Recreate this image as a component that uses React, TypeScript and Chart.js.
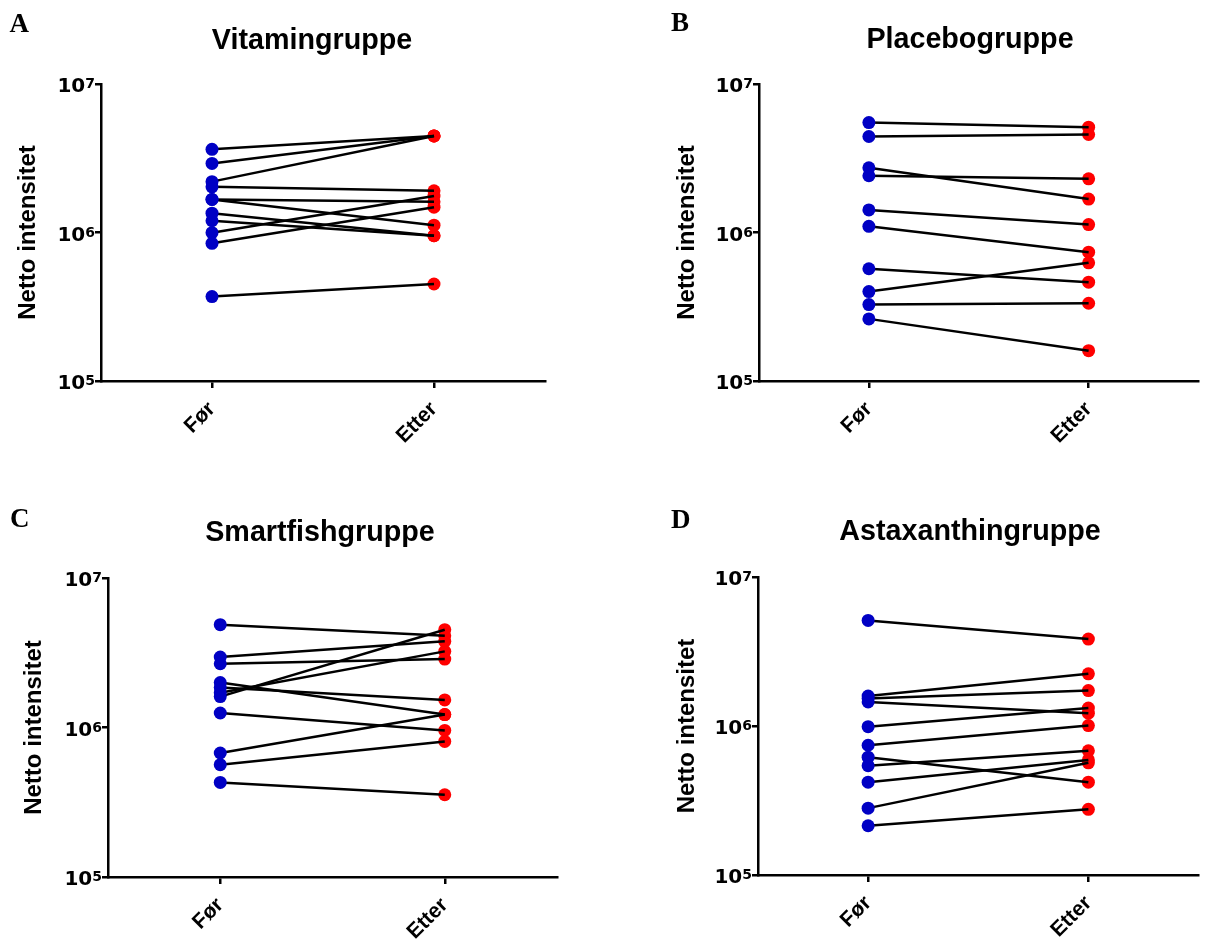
import React, { useEffect, useRef } from 'react';
import { Chart, registerables } from 'chart.js';

Chart.register(...registerables);

// ---------------- data ----------------
const categories = ['Før', 'Etter'];
const yTickValues = [1e5, 1e6, 1e7];
const yTickBase = '10';
const yTickExponents = ['5', '6', '7'];
const yAxisTitle = 'Netto intensitet';
const panelLetters = ['A', 'B', 'C', 'D'];
const panelTitles = ['Vitamingruppe', 'Placebogruppe', 'Smartfishgruppe', 'Astaxanthingruppe'];

const vitaminFor = [3.63e6, 2.92e6, 2.2e6, 2.03e6, 1.67e6, 1.67e6, 1.35e6, 1.2e6, 0.997e6, 0.846e6, 0.37e6];
const vitaminEtter = [4.47e6, 4.47e6, 4.47e6, 1.91e6, 1.61e6, 1.12e6, 0.952e6, 0.952e6, 1.76e6, 1.48e6, 0.45e6];

const placeboFor = [5.5e6, 4.43e6, 2.73e6, 2.41e6, 1.42e6, 1.1e6, 0.57e6, 0.4e6, 0.327e6, 0.262e6];
const placeboEtter = [5.12e6, 4.57e6, 1.68e6, 2.3e6, 1.13e6, 0.737e6, 0.463e6, 0.625e6, 0.334e6, 0.16e6];

const smartfishFor = [4.87e6, 2.96e6, 2.67e6, 2.0e6, 1.85e6, 1.71e6, 1.61e6, 1.25e6, 0.675e6, 0.564e6, 0.429e6];
const smartfishEtter = [4.11e6, 3.77e6, 2.87e6, 1.22e6, 1.53e6, 3.23e6, 4.51e6, 0.956e6, 1.22e6, 0.807e6, 0.355e6];

const astaFor = [5.11e6, 1.59e6, 1.53e6, 1.45e6, 0.99e6, 0.743e6, 0.618e6, 0.542e6, 0.42e6, 0.281e6, 0.214e6];
const astaEtter = [3.83e6, 2.24e6, 1.73e6, 1.22e6, 1.32e6, 1.007e6, 0.42e6, 0.681e6, 0.592e6, 0.566e6, 0.276e6];

// ---------------- layout / style ----------------
const FONT = "'Liberation Sans', Arial, sans-serif";
const TICKFONT = "'DejaVu Sans', 'Liberation Sans', sans-serif";
const SERIF = "'Liberation Serif', 'Times New Roman', serif";
const BLUE = '#0000C4';
const RED = '#FF0000';
const TITLE_SIZE = 28.7;

type PanelCfg = {
  left: number; top: number; width: number; height: number;
  axisX: number; axisRight: number; axisTop: number; axisBottom: number;
  yTitleX: number; titleCx: number; titleBaseline: number;
  letterX: number; letterBaseline: number;
};

const layouts: PanelCfg[] = [
  { left: 0, top: 0, width: 600, height: 470, axisX: 101, axisRight: 545, axisTop: 84, axisBottom: 381, yTitleX: 28.5, titleCx: 312, titleBaseline: 49, letterX: 9.5, letterBaseline: 32.3 },
  { left: 600, top: 0, width: 605, height: 470, axisX: 759, axisRight: 1205, axisTop: 84, axisBottom: 381, yTitleX: 687, titleCx: 970, titleBaseline: 48.5, letterX: 671, letterBaseline: 31.7 },
  { left: 0, top: 470, width: 600, height: 473, axisX: 108, axisRight: 557, axisTop: 578, axisBottom: 877, yTitleX: 34.5, titleCx: 320, titleBaseline: 541.7, letterX: 10, letterBaseline: 527.3 },
  { left: 600, top: 470, width: 605, height: 473, axisX: 758, axisRight: 1204, axisTop: 577, axisBottom: 875, yTitleX: 687, titleCx: 970, titleBaseline: 540.7, letterX: 671, letterBaseline: 528.3 },
];

const seriesBefore = [vitaminFor, placeboFor, smartfishFor, astaFor];
const seriesAfter = [vitaminEtter, placeboEtter, smartfishEtter, astaEtter];

// draws "10" with a raised exponent at each y tick, using the y scale's pixel mapping
const powerTickPlugin = {
  id: 'powerTicks',
  afterDraw(chart: any) {
    const s = chart.scales.y;
    const ctx = chart.ctx;
    ctx.save();
    ctx.fillStyle = '#000';
    ctx.textBaseline = 'alphabetic';
    ctx.textAlign = 'left';
    yTickValues.forEach((v, i) => {
      const y = s.getPixelForValue(v);
      const exp = yTickExponents[i];
      ctx.font = `bold 14px ${TICKFONT}`;
      const ew = ctx.measureText(exp).width;
      ctx.font = `bold 20px ${TICKFONT}`;
      const bw = ctx.measureText(yTickBase).width;
      const right = s.right - 6;
      ctx.fillText(yTickBase, right - ew - bw, y + 8.3);
      ctx.font = `bold 14px ${TICKFONT}`;
      ctx.fillText(exp, right - ew, y + 4.3);
    });
    ctx.restore();
  },
};

function Panel({ cfg, before, after }: { cfg: PanelCfg; before: number[]; after: number[] }) {
  const ref = useRef<HTMLCanvasElement>(null);
  useEffect(() => {
    if (!ref.current) return;
    const yAxisWidth = cfg.axisX - cfg.left;
    const padRight = cfg.left + cfg.width - cfg.axisRight;
    const padTop = cfg.axisTop - cfg.top;
    const xAxisHeight = cfg.top + cfg.height - cfg.axisBottom;
    const yTitleSize = 24;
    const yTitlePad = cfg.yTitleX - cfg.left - (yTitleSize * 1.2) / 2;

    const datasets: any[] = [];
    datasets.push({
      data: before.map((v) => ({ x: categories[0], y: v })),
      showLine: false,
      pointRadius: 6.5,
      pointBackgroundColor: BLUE,
      pointBorderWidth: 0,
      pointBorderColor: BLUE,
      order: 0,
    });
    before.forEach((b, i) => {
      datasets.push({
        data: [
          { x: categories[0], y: b },
          { x: categories[1], y: after[i] },
        ],
        borderColor: '#000',
        borderWidth: 2.5,
        pointRadius: 0,
        fill: false,
        tension: 0,
        order: 1,
      });
    });
    datasets.push({
      data: after.map((v) => ({ x: categories[1], y: v })),
      showLine: false,
      pointRadius: 6.5,
      pointBackgroundColor: RED,
      pointBorderWidth: 0,
      pointBorderColor: RED,
      order: 2,
    });

    const chart = new Chart(ref.current, {
      type: 'line',
      data: { labels: categories, datasets },
      plugins: [powerTickPlugin],
      options: {
        animation: false,
        responsive: false,
        devicePixelRatio: 1,
        layout: { padding: { left: 0, right: padRight, top: padTop, bottom: 0 } },
        plugins: {
          legend: { display: false },
          tooltip: { enabled: false },
          title: { display: false },
        },
        scales: {
          x: {
            type: 'category',
            offset: true,
            grid: {
              offset: false,
              display: true,
              drawOnChartArea: false,
              drawTicks: true,
              tickLength: 7,
              lineWidth: 2.5,
              color: '#000',
            },
            border: { display: true, width: 2.5, color: '#000' },
            ticks: {
              minRotation: 45,
              maxRotation: 45,
              padding: 9,
              color: '#000',
              font: { family: FONT, size: 21, weight: 'bold' },
            },
            afterFit: (s: any) => {
              s.height = xAxisHeight;
            },
          },
          y: {
            type: 'logarithmic',
            min: 1e5,
            max: 1e7,
            afterBuildTicks: (s: any) => {
              s.ticks = yTickValues.map((v) => ({ value: v }));
            },
            ticks: {
              display: false,
            },
            grid: {
              display: true,
              drawOnChartArea: false,
              drawTicks: true,
              tickLength: 6,
              lineWidth: 2.5,
              color: '#000',
            },
            border: { display: true, width: 2.5, color: '#000' },
            title: {
              display: true,
              text: yAxisTitle,
              color: '#000',
              font: { family: FONT, size: yTitleSize, weight: 'bold' },
              padding: { top: yTitlePad, bottom: 0 },
            },
            afterFit: (s: any) => {
              s.width = yAxisWidth;
            },
          },
        },
      } as any,
    });
    return () => chart.destroy();
  }, []);
  return (
    <canvas
      ref={ref}
      width={cfg.width}
      height={cfg.height}
      style={{ position: 'absolute', left: cfg.left, top: cfg.top, width: cfg.width, height: cfg.height }}
    />
  );
}

export default function App() {
  return (
    <div
      style={{
        position: 'absolute',
        left: 0,
        top: 0,
        width: 1205,
        height: 943,
        overflow: 'hidden',
        background: '#fff',
      }}
    >
      {layouts.map((cfg, i) => (
        <Panel key={i} cfg={cfg} before={seriesBefore[i]} after={seriesAfter[i]} />
      ))}
      {layouts.map((cfg, i) => (
        <div
          key={'t' + i}
          style={{
            position: 'absolute',
            left: cfg.titleCx - 200,
            width: 400,
            top: cfg.titleBaseline - 0.8465 * TITLE_SIZE,
            textAlign: 'center',
            font: `bold ${TITLE_SIZE}px ${FONT}`,
            lineHeight: `${TITLE_SIZE}px`,
            whiteSpace: 'nowrap',
            color: '#000',
          }}
        >
          {panelTitles[i]}
        </div>
      ))}
      {layouts.map((cfg, i) => (
        <div
          key={'l' + i}
          style={{
            position: 'absolute',
            left: cfg.letterX,
            top: cfg.letterBaseline - 0.8375 * 27,
            font: `bold 27px ${SERIF}`,
            lineHeight: '27px',
            color: '#000',
          }}
        >
          {panelLetters[i]}
        </div>
      ))}
    </div>
  );
}
